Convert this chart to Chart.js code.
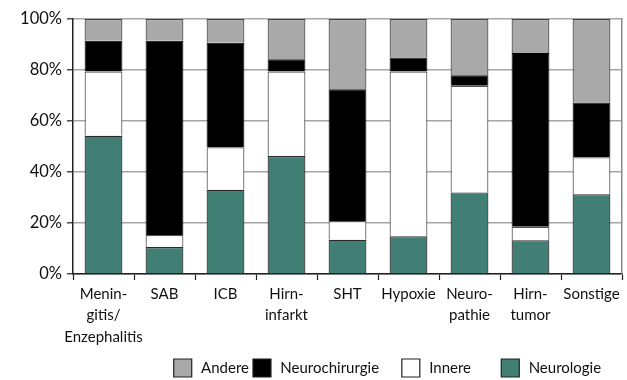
<!DOCTYPE html>
<html>
<head>
<meta charset="utf-8">
<script src="https://cdn.jsdelivr.net/npm/chart.js@4/dist/chart.umd.min.js"></script>
<style>
  html, body { margin: 0; padding: 0; background: #fff; }
  #wrap { width: 627px; height: 380px; position: relative; }
</style>
</head>
<body>
<div id="wrap"><canvas id="c"></canvas></div>
<script>
// Diagnosis groups on the x axis (multi-line labels as arrays)
const categories = [
  ["Menin-", "gitis/", "Enzephalitis"],
  "SAB",
  "ICB",
  ["Hirn-", "infarkt"],
  "SHT",
  "Hypoxie",
  ["Neuro-", "pathie"],
  ["Hirn-", "tumor"],
  "Sonstige"
];

// Share of patients per treating department (percent, stacked to 100)
const neurologie     = [54.2, 10.6, 33.0, 46.3, 13.4, 14.8, 32.0, 13.2, 31.3];
const innere         = [25.2,  4.7, 16.7, 33.1,  7.4, 64.6, 41.8,  5.3, 14.5];
const neurochirurgie = [12.1, 76.2, 41.0,  4.8, 51.7,  5.5,  4.1, 68.2, 21.5];
const andere         = [ 8.5,  8.5,  9.3, 15.8, 27.5, 15.1, 22.1, 13.3, 32.7];

const yTicks = [0, 20, 40, 60, 80, 100];

const FONT = "'Lato', 'Liberation Sans', sans-serif";

// spacing after each legend entry (legend order: Andere, Neurochirurgie, Innere, Neurologie)
const EN = '\u2002', THIN = '\u2009';
const legendTrail = [EN + EN + THIN, EN + EN + EN + THIN + THIN, EN + EN + THIN + THIN, ''];

new Chart(document.getElementById('c'), {
  type: 'bar',
  data: {
    labels: categories,
    datasets: [
      { label: 'Neurologie', data: neurologie, backgroundColor: '#417e73', borderColor: '#2a2a2a', borderWidth: 1.2 },
      { label: 'Innere', data: innere, backgroundColor: '#ffffff', borderColor: '#555555', borderWidth: 1.2 },
      { label: 'Neurochirurgie', data: neurochirurgie, backgroundColor: '#000000', borderColor: '#000000', borderWidth: 1 },
      { label: 'Andere', data: andere, backgroundColor: '#a9a9a9', borderColor: '#444444', borderWidth: 1.2 }
    ]
  },
  options: {
    responsive: true,
    maintainAspectRatio: false,
    animation: false,
    datasets: { bar: { barPercentage: 0.62, categoryPercentage: 1.0 } },
    layout: { padding: { left: 4, right: 5, top: 19, bottom: -7 } },
    plugins: {
      tooltip: { enabled: false },
      legend: {
        position: 'bottom',
        align: 'end',
        reverse: true,
        labels: {
          color: '#111',
          font: { family: FONT, size: 15 },
          boxWidth: 18,
          boxHeight: 18,
          padding: 4,
          generateLabels(chart) {
            const items = Chart.defaults.plugins.legend.labels.generateLabels(chart);
            items.forEach((it, i) => {
              it.lineWidth = 1.2;
              it.strokeStyle = '#222';
              it.text = THIN + it.text + (legendTrail[i] || '');
            });
            return items;
          }
        }
      }
    },
    scales: {
      x: {
        stacked: true,
        offset: true,
        afterFit(axis) { axis.height = 81; },
        grid: {
          offset: true,
          drawOnChartArea: false,
          drawTicks: true,
          tickLength: 6,
          tickColor: '#222',
          tickWidth: 1.2
        },
        border: { color: '#222', width: 1.5 },
        ticks: {
          color: '#111',
          font: { family: FONT, size: 15, lineHeight: 1.45 },
          maxRotation: 0,
          minRotation: 0,
          autoSkip: false,
          padding: 3
        }
      },
      y: {
        stacked: true,
        min: 0,
        max: 100,
        z: 1,
        afterBuildTicks(axis) { axis.ticks = yTicks.map(v => ({ value: v })); },
        afterFit(axis) { axis.width = 69; },
        grid: {
          color: '#a6a6a6',
          lineWidth: 1.6,
          tickLength: 6,
          tickColor: '#222',
          tickWidth: 1.2
        },
        border: { color: '#222', width: 1.5 },
        ticks: {
          color: '#111',
          font: { family: FONT, size: 16.5 },
          padding: 5,
          callback: v => v + '%'
        }
      },
      yRight: {
        position: 'right',
        min: 0,
        max: 100,
        grid: { display: false, drawTicks: false },
        border: { color: '#8a8a8a', width: 1.5 },
        ticks: { display: false }
      }
    }
  }
});
</script>
</body>
</html>
